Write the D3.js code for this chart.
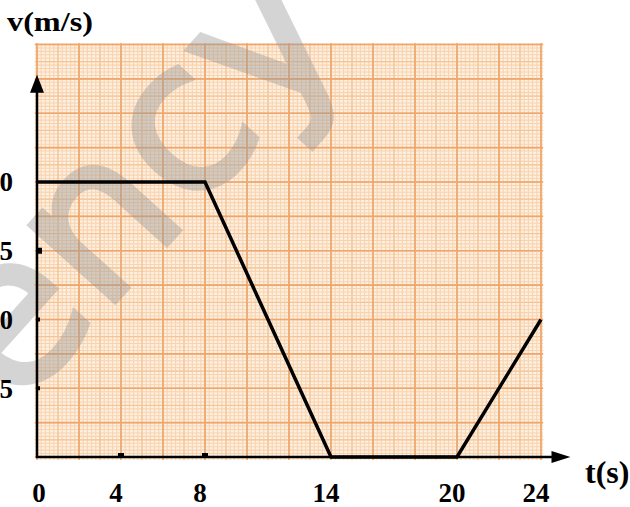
<!DOCTYPE html>
<html>
<head>
<meta charset="utf-8">
<script src="https://cdn.jsdelivr.net/npm/d3@7"></script>
<style>
  body { margin: 0; background: #fff; }
  svg text { font-family: "Liberation Serif", "Times New Roman", serif; font-weight: bold; }
</style>
</head>
<body>
<div id="chart"></div>
<script>
// velocity-time graph data
const times = [0, 8, 14, 20, 24];
const speeds = [20, 20, 0, 0, 10];
const xTickLabels = [0, 4, 8, 14, 20, 24];
const yTickLabels = [20, 15, 10, 5];
const xTickMarks = [4, 8];
const yTickMarks = [15, 10, 5];

const width = 630, height = 507;

const svg = d3.select("#chart")
    .append("svg")
    .attr("width", width)
    .attr("height", height);

const x = d3.scaleLinear().domain([0, 24]).range([37, 541]);
const y = d3.scaleLinear().domain([0, 20]).range([457, 182]);

/* graph paper */

const paper = svg.append("g");
paper.append("rect")
    .attr("x", x(-0.1))
    .attr("y", y(30.1))
    .attr("width", x(24.1) - x(-0.1))
    .attr("height", y(-0.2) - y(30.1))
    .attr("fill", "#fdf0e0");

function gridLines(stepX, stepY, color, w) {
    paper.append("g").selectAll("line")
        .data(d3.range(0, 24.001, stepX))
        .enter().append("line")
        .attr("x1", d => x(d)).attr("x2", d => x(d))
        .attr("y1", y(30.1)).attr("y2", y(-0.2))
        .attr("stroke", color).attr("stroke-width", w);
    paper.append("g").selectAll("line")
        .data(d3.range(0, 30.001, stepY))
        .enter().append("line")
        .attr("y1", d => y(d)).attr("y2", d => y(d))
        .attr("x1", x(-0.1)).attr("x2", x(24.1))
        .attr("stroke", color).attr("stroke-width", w);
}
gridLines(0.2, 0.25, "#f8d3b0", 1.1);
gridLines(1, 1.25, "#f5c598", 1.3);
gridLines(2, 2.5, "#eea66c", 1.6);

/* watermark */

svg.append("g")
    .attr("opacity", 0.42)
    .append("text")
    .attr("transform", "translate(16,412) rotate(-48)")
    .attr("font-size", 210)
    .style("font-family", "'DejaVu Sans', sans-serif")
    .style("font-weight", "normal")
    .attr("fill", "#9a9a9a")
    .attr("stroke", "#9a9a9a")
    .attr("stroke-width", 5)
    .text("ency");

/* axes */

const axes = svg.append("g");
axes.append("line")
    .attr("x1", x(0)).attr("x2", x(0))
    .attr("y1", y(0) + 1).attr("y2", y(27.3))
    .attr("stroke", "#000").attr("stroke-width", 2.5);
axes.append("path")
    .attr("d", `M${x(0)},${y(27.8)} L${x(0) - 7},${y(26.5)} L${x(0) + 7},${y(26.5)} Z`)
    .attr("fill", "#000");
axes.append("line")
    .attr("x1", x(0) - 1).attr("x2", x(25))
    .attr("y1", y(0)).attr("y2", y(0))
    .attr("stroke", "#000").attr("stroke-width", 2.5);
axes.append("path")
    .attr("d", `M${x(25.4)},${y(0)} L${x(24.5)},${y(0) - 6} L${x(24.5)},${y(0) + 6} Z`)
    .attr("fill", "#000");

axes.selectAll(".xmark")
    .data(xTickMarks)
    .enter().append("rect")
    .attr("x", d => x(d) - 3).attr("y", y(0) - 4)
    .attr("width", 6).attr("height", 5)
    .attr("fill", "#000");
axes.selectAll(".ymark")
    .data(yTickMarks)
    .enter().append("rect")
    .attr("x", x(0) - 1).attr("y", d => y(d) - (d === 15 ? 3 : 2))
    .attr("width", d => d === 15 ? 6 : 4).attr("height", d => d === 15 ? 6 : 4)
    .attr("fill", "#000");

/* line */

const points = times.map((t, i) => ({t, v: speeds[i]}));
svg.append("path")
    .datum(points)
    .attr("fill", "none")
    .attr("stroke", "#000")
    .attr("stroke-width", 3.5)
    .attr("d", d3.line().x(d => x(d.t)).y(d => y(d.v)));

/* labels */

svg.selectAll(".xlab")
    .data(xTickLabels)
    .enter().append("text")
    .attr("x", d => x(d) - (d === 0 ? -2 : 5))
    .attr("y", 502)
    .attr("text-anchor", "middle")
    .attr("font-size", 27)
    .text(d => d);

svg.selectAll(".ylab")
    .data(yTickLabels)
    .enter().append("text")
    .attr("x", 13)
    .attr("y", d => y(d))
    .attr("dy", "0.35em")
    .attr("text-anchor", "end")
    .attr("font-size", 27)
    .text(d => d);

svg.append("text")
    .attr("x", 7).attr("y", 31)
    .attr("font-size", 28)
    .attr("textLength", 86)
    .attr("lengthAdjust", "spacingAndGlyphs")
    .text("v(m/s)");

svg.append("text")
    .attr("x", 585).attr("y", 483)
    .attr("font-size", 32)
    .text("t(s)");
</script>
</body>
</html>
